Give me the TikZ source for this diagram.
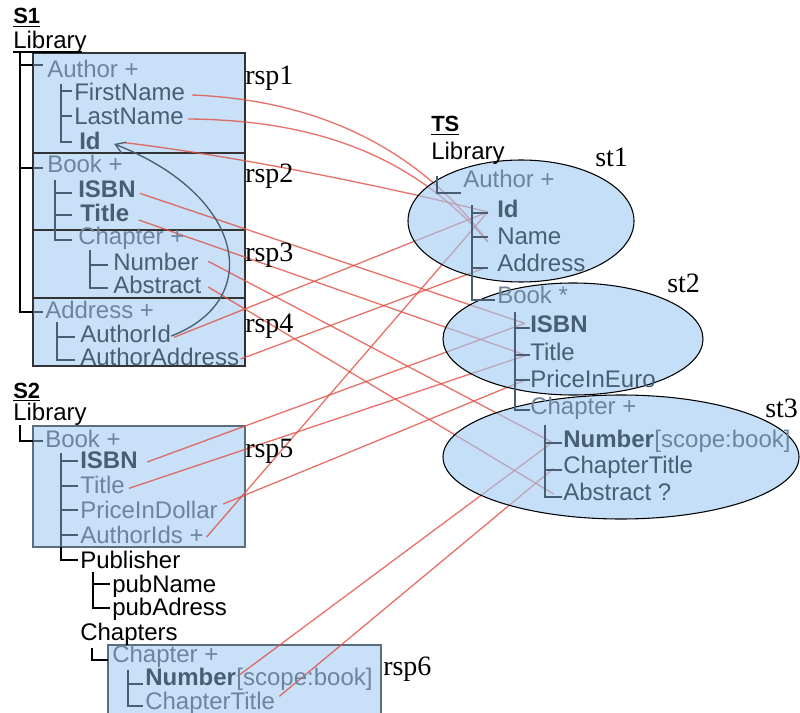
\documentclass[tikz,border=0pt]{standalone}
\usepackage{fontspec}
\setmainfont{Liberation Serif}
\setsansfont{Liberation Sans}
\usetikzlibrary{arrows.meta}

\definecolor{boxfill}{RGB}{200,224,248}
\definecolor{ellfill}{RGB}{158,202,243}
\definecolor{slate}{RGB}{72,94,114}
\definecolor{lite}{RGB}{108,132,156}
\definecolor{mapred}{RGB}{225,80,68}

\pgfdeclarelayer{boxes}
\pgfdeclarelayer{lines}
\pgfdeclarelayer{sets}
\pgfsetlayers{boxes,lines,sets,main}

\begin{document}
\begin{tikzpicture}[x=0.75pt,y=-0.75pt,
  item/.style={anchor=base west, inner sep=0pt, text height=13pt, text depth=0pt,
    font=\sffamily\fontsize{18}{20}\selectfont, text=slate},
  liteitem/.style={item, text=lite},
  blackitem/.style={item, text=black},
  keyitem/.style={item, font=\sffamily\bfseries\fontsize{18}{20}\selectfont},
  hdr/.style={anchor=base west, inner sep=0pt, font=\sffamily\bfseries\fontsize{16.5}{18}\selectfont},
  tag/.style={anchor=base west, inner sep=0pt, font=\fontsize{21}{24}\selectfont},
  sbox/.style={fill=boxfill, draw=black!80, line width=0.8pt},
  sboxb/.style={fill=boxfill, draw=slate!90, line width=0.8pt},
  trunk/.style={draw=black, line width=1.4pt},
  branch/.style={draw=slate, line width=1.1pt},
  pubtree/.style={draw=black, line width=1.1pt},
  mapline/.style={draw=mapred, line width=1pt, opacity=0.8},
  ell/.style={fill=ellfill, fill opacity=0.6, draw=black, line width=0.8pt},
  ref/.style={draw=slate, line width=1pt}]
\useasboundingbox (0,0) rectangle (800,713);

% ---------- schema boxes ----------
\begin{pgfonlayer}{boxes}
\path[sbox] (33,53) rectangle (245,153);
\path[sbox] (33,153) rectangle (245,230);
\path[sbox] (33,230) rectangle (245,298);
\path[sbox] (33,298) rectangle (245,366);
\path[sboxb] (33,426) rectangle (245,547);
\path[sboxb] (108,645) rectangle (381,716);
\end{pgfonlayer}

% ---------- S1 ----------
\node[hdr] (s1) at (13,24) {\underline{S1}};
\node[blackitem] (s1lib) at (13,49) {Library};
\draw[black, line width=0.9pt] (13,52) -- (82,52);

\draw[trunk] (20,52) -- (20,312) -- (33,312);
\draw[trunk] (20,65) -- (33,65);
\draw[trunk] (20,168) -- (33,168);
\draw[branch] (33,312) -- (43,312) (33,65) -- (43,65) (33,168) -- (43,168);
\draw[branch] (61,84) -- (61,142) -- (72,142) (61,91) -- (72,91) (61,116) -- (72,116);
\draw[branch] (55,180) -- (55,240) -- (72,240) (55,193) -- (72,193) (55,215) -- (72,215);
\draw[branch] (90,250) -- (90,288) -- (108,288) (90,265) -- (108,265);
\draw[branch] (57,322) -- (57,360) -- (75,360) (57,337) -- (75,337);

\node[liteitem] (s1author) at (47,78) {Author +};
\node[item] (s1fn) at (74,101) {FirstName};
\node[item] (s1ln) at (74,125) {LastName};
\node[keyitem] (s1id) at (79,150) {Id};
\node[liteitem] (s1book) at (47,173) {Book +};
\node[keyitem] (s1isbn) at (78,198) {ISBN};
\node[keyitem] (s1title) at (80,222) {Title};
\node[liteitem] (s1chap) at (78,245) {Chapter +};
\node[item] (s1num) at (113,270) {Number};
\node[item] (s1abs) at (113,293) {Abstract};
\node[liteitem] (s1addr) at (45,318) {Address +};
\node[item] (s1aid) at (80,342) {AuthorId};
\node[item] (s1aaddr) at (80,365) {AuthorAddress};

% ---------- S2 ----------
\node[hdr] (s2) at (13,398) {\underline{S2}};
\node[blackitem] (s2lib) at (13,420) {Library};

\draw[trunk] (20,425) -- (20,441) -- (33,441);
\draw[branch] (33,441) -- (43,441);
\draw[branch] (61,453) -- (61,547) (61,461) -- (78,461) (61,486) -- (78,486)
  (61,510) -- (78,510) (61,535) -- (78,535);
\draw[pubtree] (61,547) -- (61,560) -- (78,560);
\draw[pubtree] (93,572) -- (93,608) -- (110,608) (93,584) -- (110,584);
\draw[pubtree] (92,648) -- (92,660) -- (108,660);
\draw[branch] (128,670) -- (128,706) -- (143,706) (128,684) -- (143,684);

\node[liteitem] (s2book) at (45,447) {Book +};
\node[keyitem] (s2isbn) at (80,468) {ISBN};
\node[liteitem] (s2title) at (80,493) {Title};
\node[liteitem] (s2price) at (80,518) {PriceInDollar};
\node[liteitem] (s2aids) at (80,543) {AuthorIds +};
\node[blackitem] (s2pub) at (80,568) {Publisher};
\node[blackitem] (s2pname) at (112,592) {pubName};
\node[blackitem] (s2padr) at (112,615) {pubAdress};
\node[blackitem] (s2chaps) at (80,640) {Chapters};
\node[liteitem] (s2chap) at (112,662) {Chapter +};
\node[keyitem] (s2num) at (145,685) {Number};
\node[liteitem] (s2scope) at (s2num.base east) {[scope:book]};
\node[liteitem] (s2ct) at (145,709) {ChapterTitle};

% ---------- TS ----------
\node[hdr] (ts) at (431,132) {\underline{TS}};
\node[blackitem] (tslib) at (431,160) {Library};

\draw[branch] (437,176) -- (437,193) -- (461,193);
\draw[branch] (472,205) -- (472,300) -- (495,300)
  (472,213) -- (488,213) (472,237) -- (488,237) (472,268) -- (488,268);
\draw[branch] (515,312) -- (515,410) -- (530,410)
  (515,328) -- (530,328) (515,355) -- (530,355) (515,380) -- (530,380);
\draw[branch] (545,425) -- (545,497) -- (562,497)
  (545,443) -- (562,443) (545,470) -- (562,470);

\node[liteitem] (tsauthor) at (463,188) {Author +};
\node[keyitem] (tsid) at (497,218) {Id};
\node[item] (tsname) at (497,245) {Name};
\node[item] (tsaddr) at (497,272) {Address};
\node[liteitem] (tsbook) at (497,303) {Book *};
\node[keyitem] (tsisbn) at (530,332) {ISBN};
\node[item] (tstitle) at (530,360) {Title};
\node[item] (tsprice) at (530,387) {PriceInEuro};
\node[liteitem] (tschap) at (530,414) {Chapter +};
\node[keyitem] (tsnum) at (563,447) {Number};
\node[liteitem] (tsscope) at (tsnum.base east) {[scope:book]};
\node[item] (tsct) at (563,473) {ChapterTitle};
\node[item] (tsabs) at (563,500) {Abstract ?};

% ---------- target sets ----------
\begin{pgfonlayer}{sets}
\draw[ell] (521,221) ellipse [x radius=113, y radius=61];
\draw[ell] (573,339) ellipse [x radius=130, y radius=56];
\draw[ell] (621,457) ellipse [x radius=178, y radius=62];
\end{pgfonlayer}

% ---------- mapping lines ----------
\begin{pgfonlayer}{lines}
\draw[mapline] ([xshift=5pt,yshift=-2pt]s1fn.east) .. controls (320,100) and (420,150) .. ([xshift=-7pt,yshift=-4pt]tsname.west);
\draw[mapline] ([xshift=3pt,yshift=-2pt]s1ln.east) .. controls (320,120) and (415,158) .. ([xshift=-7pt,yshift=-4pt]tsname.west);
\draw[mapline] ([xshift=18pt,yshift=-1pt]s1id.east) .. controls (250,158) and (400,190) .. ([xshift=-7pt,yshift=-2pt]tsid.west);
\draw[mapline] ([xshift=3pt,yshift=-3pt]s1isbn.east) -- ([xshift=-4pt]tsisbn.west);
\draw[mapline] ([xshift=7pt,yshift=-5pt]s1title.east) -- ([xshift=-3pt,yshift=-3pt]tstitle.west);
\draw[mapline] ([xshift=7pt]s1num.east) -- ([xshift=-8pt,yshift=-3pt]tsnum.west);
\draw[mapline] ([xshift=5pt,yshift=-2pt]s1abs.east) -- ([xshift=-7pt,yshift=-2pt]tsabs.west);
\draw[mapline] ([xshift=2pt,yshift=-3pt]s1aid.east) -- ([xshift=-7pt,yshift=-2pt]tsid.west);
\draw[mapline] ([xshift=1pt,yshift=-2pt]s1aaddr.east) -- ([xshift=-8pt,yshift=-3pt]tsaddr.west);
\draw[mapline] ([xshift=7pt,yshift=-2pt]s2isbn.east) -- ([xshift=-4pt]tsisbn.west);
\draw[mapline] ([xshift=3pt,yshift=-3pt]s2title.east) -- ([xshift=-3pt,yshift=-3pt]tstitle.west);
\draw[mapline] ([xshift=4pt,yshift=4pt]s2price.east) -- ([xshift=-3pt,yshift=-1pt]tsprice.west);
\draw[mapline] ([xshift=2pt,yshift=-2pt]s2aids.east) -- ([xshift=-7pt,yshift=-2pt]tsid.west);
\draw[mapline] ([xshift=1pt]s2num.east) -- ([xshift=-8pt,yshift=-3pt]tsnum.west);
\draw[mapline] ([xshift=3pt,yshift=3pt]s2ct.east) -- ([xshift=-7pt,yshift=-3pt]tsct.west);
\end{pgfonlayer}

% ---------- reference AuthorId -> Id ----------
\draw[ref, -{Straight Barb[length=7pt,width=9pt]}] ([yshift=-2pt]s1aid.east)
  .. controls (265,300) and (245,195) .. ([xshift=10pt,yshift=-2pt]s1id.east);

% ---------- labels ----------
\node[tag] (rsp1) at (245,85) {rsp1};
\node[tag] (rsp2) at (245,183) {rsp2};
\node[tag] (rsp3) at (245,262) {rsp3};
\node[tag] (rsp4) at (245,332) {rsp4};
\node[tag] (rsp5) at (245,457) {rsp5};
\node[tag] (rsp6) at (383,675) {rsp6};
\node[tag] (st1) at (595,167) {st1};
\node[tag] (st2) at (667,292) {st2};
\node[tag] (st3) at (765,417) {st3};
\end{tikzpicture}
\end{document}
